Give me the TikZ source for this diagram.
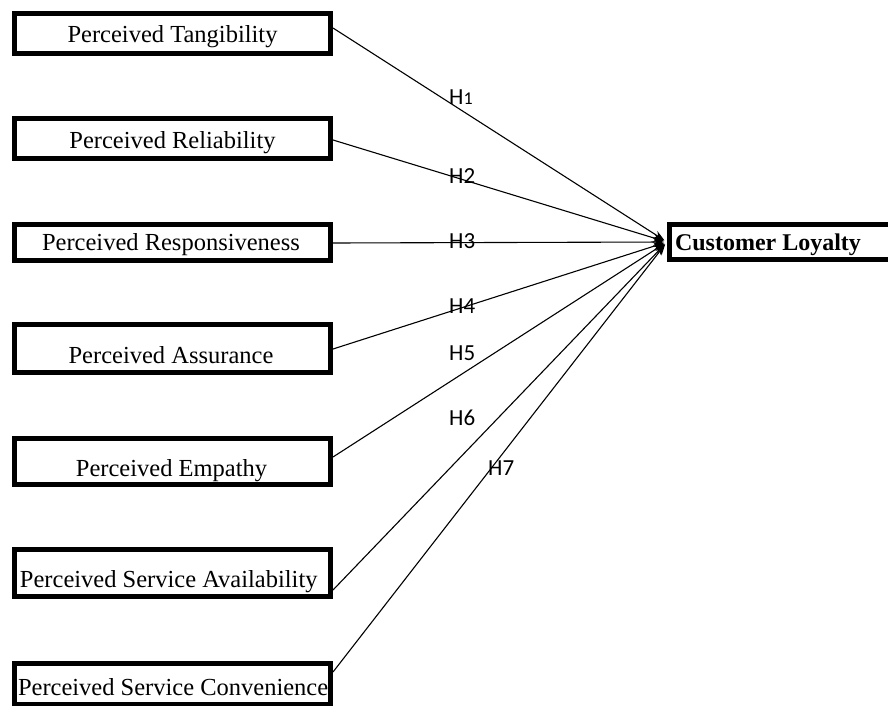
\documentclass[tikz,border=0pt]{standalone}
\usepackage{fontspec}
\setmainfont{Liberation Serif}
\newfontfamily\hfont{Carlito}
\usetikzlibrary{arrows.meta}
\begin{document}
\begin{tikzpicture}[x=1pt,y=-1pt,
  factor/.style={draw,line width=5pt,inner sep=0pt,minimum width=316pt,font=\fontsize{24.5}{28}\selectfont},
  outcome/.style={draw,line width=5pt,inner sep=0pt,font=\bfseries\fontsize{24}{28}\selectfont},
  hyp/.style={font=\hfont\fontsize{23}{26}\selectfont,inner sep=0pt,anchor=base west},
  link/.style={line width=1.1pt,-{Stealth[length=11pt,width=8pt]},shorten >=3pt}]
\useasboundingbox (0,0) rectangle (888,706);
\node[factor,text height=29.5pt,text depth=10.5pt] (b1) at (172.5,33.5) {\makebox[316pt][c]{Perceived Tangibility}};
\node[factor,text height=29.5pt,text depth=10.5pt] (b2) at (172.5,138.5) {\makebox[316pt][c]{Perceived Reliability}};
\node[factor,text height=25.5pt,text depth=10.5pt] (b3) at (172.5,242.5) {\makebox[316pt][c]{\hspace*{-3pt}Perceived Responsiveness}};
\node[factor,text height=38.5pt,text depth=9.5pt] (b4) at (172.5,348.5) {\makebox[316pt][c]{\hspace*{-3pt}Perceived Assurance}};
\node[factor,text height=37.5pt,text depth=8.5pt] (b5) at (172.5,461.5) {\makebox[316pt][c]{\hspace*{-2pt}Perceived Empathy}};
\node[factor,text height=37.5pt,text depth=9.5pt] (b6) at (172.5,573) {\makebox[316pt][l]{\hspace*{5.5pt}Perceived Service Availability}};
\node[factor,text height=32pt,text depth=9.5pt] (b7) at (172.5,683.75) {\makebox[316pt][l]{\hspace*{3.5pt}Perceived Service Convenience}};
\node[outcome,text height=25.5pt,text depth=9.5pt] (cl) at (780.25,242) {\makebox[221.5pt][l]{\hspace*{5.5pt}Customer Loyalty}};
\draw[link] ([yshift=5.5pt]b1.east) -- (cl.west);
\draw[link] ([yshift=-1.5pt]b2.east) -- (cl.west);
\draw[link] ([yshift=-0.5pt]b3.east) -- (cl.west);
\draw[link] ([yshift=-0.5pt]b4.east) -- (cl.west);
\draw[link] ([yshift=4.5pt]b5.east) -- (cl.west);
\draw[link] ([yshift=-17pt]b6.east) -- (cl.west);
\draw[link] ([yshift=11.75pt]b7.east) -- (cl.west);
\node[hyp] (h1) at (449,105) {H{\fontsize{18}{20}\selectfont 1}};
\node[hyp] (h2) at (449,183) {H2};
\node[hyp] (h3) at (449,248) {H3};
\node[hyp] (h4) at (449,313) {H4};
\node[hyp] (h5) at (449,360) {H5};
\node[hyp] (h6) at (449,425) {H6};
\node[hyp] (h7) at (488,475) {H7};
\end{tikzpicture}
\end{document}
